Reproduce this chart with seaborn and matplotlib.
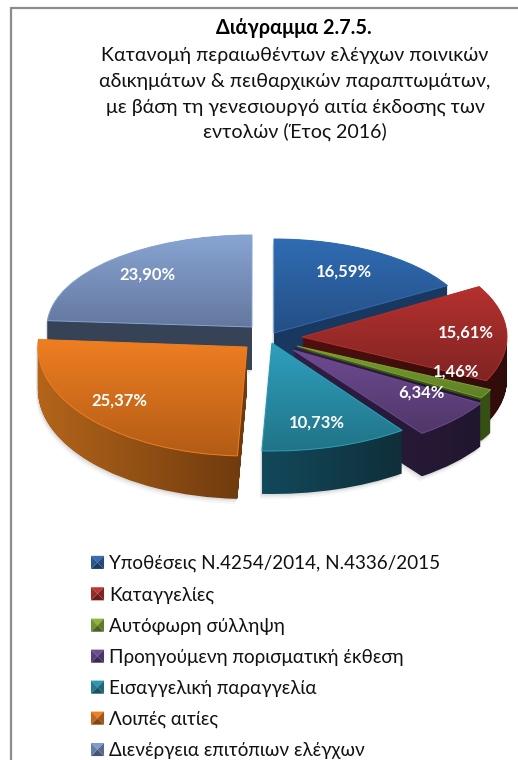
import numpy as np
import matplotlib
matplotlib.use("Agg")
import matplotlib.pyplot as plt
import seaborn as sns
from matplotlib.colors import LinearSegmentedColormap, to_rgb
from matplotlib.legend_handler import HandlerBase
from matplotlib.lines import Line2D
from matplotlib.patches import Patch, PathPatch, Polygon
from matplotlib.path import Path
from matplotlib.transforms import Affine2D

# ---------- data ----------
categories = ["Υποθέσεις Ν.4254/2014, Ν.4336/2015", "Καταγγελίες", "Αυτόφωρη σύλληψη",
              "Προηγούμενη πορισματική έκθεση", "Εισαγγελική παραγγελία",
              "Λοιπές αιτίες", "Διενέργεια επιτόπιων ελέγχων"]
values = [16.59, 15.61, 1.46, 6.34, 10.73, 25.37, 23.90]
title_bold = "Διάγραμμα 2.7.5."
title_lines = ["Κατανομή περαιωθέντων ελέγχων ποινικών",
               "αδικημάτων & πειθαρχικών παραπτωμάτων,",
               "με βάση τη γενεσιουργό αιτία έκδοσης των",
               "εντολών (Έτος 2016)"]

# ---------- style ----------
W, H = 518, 760
sns.set_theme(style="white")
plt.rcParams["font.family"] = ["Lato", "Noto Sans", "DejaVu Sans"]

top_light = ["#2F6CB3", "#B5312E", "#7AA02E", "#6E4A90", "#2EA0BE", "#EE7E22", "#88A5D3"]
top_dark = ["#254F85", "#7F2423", "#5F7F27", "#503769", "#217488", "#B35C15", "#64789F"]
wall_left = ["#193860", "#4E110E", "#425F18", "#2F1F45", "#12495B", "#B4651A", "#364255"]
wall_right = ["#193860", "#300C0A", "#364F14", "#21162F", "#0F2F3A", "#6E3A0E", "#364255"]
legend_col = ["#2D5F9E", "#A52E2C", "#7C9C35", "#5F4482", "#28849C", "#D0701F", "#6F88B5"]
explode = [0.12, 0.20, 0.20, 0.21, 0.15, 0.10, 0.08]
# perspective stretch of each slice and where its tip sits on the page (px)
stretch_x = [0.98, 1.00, 1.05, 1.07, 1.08, 1.02, 1.00]
stretch_y = [0.94, 1.00, 1.00, 1.03, 1.08, 1.09, 0.92]
tips_px = [(274, 333), (302, 337), (297, 346), (293, 350), (272, 343), (247, 347), (252, 327)]
label_px = [(344, 272), (466, 333), (456, 372), (421, 393), (317, 423), (119, 401), (147, 275)]
wall_lift_px = [0, 0, 0, 3, 0, 0, 0]
draw_order = [6, 0, 1, 2, 3, 4, 5]

PX_X, PX_Y, CX, CY, DEPTH = 205.0, 100.0, 262.0, 338.0, 43.0


def to_data(px, py):
    return (px - CX) / PX_X, (CY - py) / PX_Y


class BevelHandler(HandlerBase):
    """Legend key drawn as a small bevelled square."""

    def create_artists(self, legend, orig, xd, yd, width, height, fontsize, trans):
        x0, y0 = -xd, -yd
        x1, y1 = x0 + width, y0 + height
        mx, my = (x0 + x1) / 2, (y0 + y1) / 2
        base = np.array(to_rgb(orig.get_facecolor()))
        faces = [([(x0, y1), (x1, y1), (mx, my)], 1.15),
                 ([(x0, y0), (x1, y0), (mx, my)], 0.62),
                 ([(x0, y0), (x0, y1), (mx, my)], 0.92),
                 ([(x1, y0), (x1, y1), (mx, my)], 0.78)]
        return [Polygon(pts, closed=True, facecolor=np.clip(base * k, 0, 1),
                        edgecolor="none", transform=trans) for pts, k in faces]


fig = plt.figure(figsize=(W / 100, H / 100), dpi=100, facecolor="white")
ax = fig.add_axes([0, 0, 1, 1])

wedges, _, autotexts = ax.pie(
    values, explode=explode, startangle=90, counterclock=False, radius=1,
    autopct=lambda p: f"{p:.2f}".replace(".", ",") + "%",
    textprops=dict(color="white", fontweight="bold", fontsize=12, ha="center", va="center"),
)
xlim = (-CX / PX_X, (W - CX) / PX_X)
ylim = ((CY - H) / PX_Y, CY / PX_Y)

for z, i in enumerate(draw_order):
    w = wedges[i]
    tx, ty = to_data(*tips_px[i])
    tweak = (Affine2D().translate(-w.center[0], -w.center[1])
             .scale(stretch_x[i], stretch_y[i]).translate(tx, ty))
    base = w.get_path().transformed(w.get_patch_transform() + tweak)
    x0, y0 = base.vertices.min(axis=0)
    x1, y1 = base.vertices.max(axis=0)
    drop = DEPTH / PX_Y
    lift = wall_lift_px[i] / PX_Y

    # side wall: the top face swept downwards, shaded left to right
    sweep = Path.make_compound_path(*[
        base.transformed(Affine2D().translate(0, lift - (drop + lift) * k / 44)) for k in range(45)
    ])
    # soft shadow on the page under the wall
    for grow, alpha in [(5, 0.05), (3, 0.07), (1.5, 0.09)]:
        ax.add_patch(PathPatch(
            sweep.transformed(Affine2D().translate(-grow * 0.4 / PX_X, -grow / PX_Y)),
            facecolor="#555555", edgecolor="none", alpha=alpha, zorder=0.5))

    wall_cmap = LinearSegmentedColormap.from_list("w", [wall_left[i], wall_right[i]])
    wall = ax.imshow(np.linspace(0, 1, 64).reshape(1, -1), cmap=wall_cmap, aspect="auto",
                     extent=(x0, x1, y0 - drop, y1 + lift), zorder=2 * z + 1, interpolation="bilinear")
    wall.set_clip_path(sweep, ax.transData)

    # top face, shaded top to bottom
    w.set_transform(tweak + ax.transData)
    w.set_facecolor("none")
    w.set_edgecolor(top_light[i])
    w.set_linewidth(0.7)
    w.set_zorder(2 * z + 2.5)
    top_cmap = LinearSegmentedColormap.from_list("t", [top_light[i], top_dark[i]])
    top = ax.imshow(np.linspace(0, 1, 64).reshape(-1, 1), cmap=top_cmap, aspect="auto",
                    extent=(x0, x1, y0, y1), zorder=2 * z + 2, interpolation="bilinear")
    top.set_clip_path(base, ax.transData)

    t = autotexts[i]
    t.set_position(to_data(*label_px[i]))
    t.set_zorder(100)

ax.set_xlim(*xlim)
ax.set_ylim(*ylim)
ax.set_aspect("auto")
ax.set_axis_off()

# title
fig.text(294 / W, 1 - 28 / H, title_bold, ha="center", va="center", fontsize=14.3, fontweight="bold", color="black")
for y_px, line in zip([55, 81, 107, 132], title_lines):
    fig.text(295 / W, 1 - y_px / H, line, ha="center", va="center", fontsize=14.1, color="#111111")

# legend
handles = [Patch(facecolor=c) for c in legend_col]
ax.legend(handles, categories, loc="upper left", bbox_to_anchor=(91 / W, 1 - 555 / H),
          bbox_transform=fig.transFigure, frameon=False, fontsize=13.6, borderpad=0,
          borderaxespad=0, handlelength=0.69, handleheight=0.69, handletextpad=0.28,
          labelspacing=0.74, labelcolor="#111111",
          handler_map={Patch: BevelHandler()})

# outer frame
for xs, ys in [((11, 11), (8, 760)), ((11, 518), (8, 8))]:
    fig.add_artist(Line2D([x / W for x in xs], [1 - y / H for y in ys], color="#8C8C8C", lw=1.6))

fig.savefig("out.png", dpi=100)
